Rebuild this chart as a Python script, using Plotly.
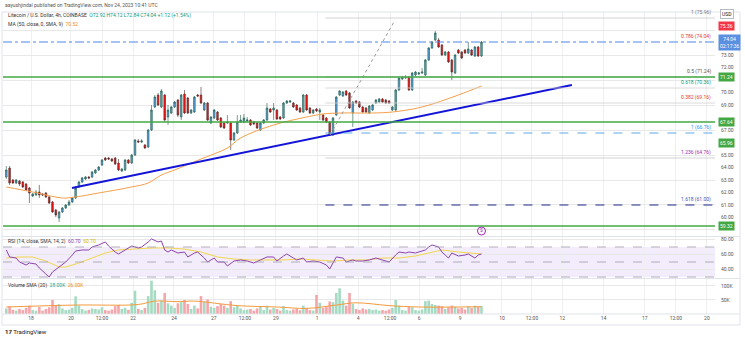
import plotly.graph_objects as go

TITLE = "aayushjindal published on TradingView.com, Nov 24, 2023 10:41 UTC"
SYMBOL = "Litecoin / U.S. Dollar, 4h, COINBASE"

OPEN = [63.24, 63.96, 63.00, 62.76, 62.92, 62.84, 62.68, 62.36, 61.72, 61.80,
        62.04, 61.88, 61.96, 61.64, 61.24, 60.60, 59.96, 60.44, 60.76, 61.00,
        61.24, 61.56, 62.44, 62.84, 63.08, 63.24, 63.24, 63.56, 63.80, 64.20,
        64.76, 64.76, 64.68, 64.76, 64.36, 63.72, 63.80, 64.60, 64.36, 65.00,
        66.12, 66.04, 65.80, 65.64, 67.00, 68.84, 69.80, 68.84, 69.80, 68.04,
        68.36, 68.84, 69.40, 68.04, 69.88, 69.56, 68.36, 68.44, 69.80, 69.80,
        68.60, 69.16, 67.56, 67.96, 68.44, 67.96, 67.56, 67.56, 67.56, 66.20,
        66.76, 67.64, 67.64, 67.72, 67.80, 67.64, 67.56, 67.00, 67.56, 67.80,
        68.68, 68.60, 68.60, 68.04, 67.96, 69.16, 69.24, 69.16, 69.00, 68.76,
        68.44, 69.80, 68.76, 68.36, 68.68, 68.44, 68.20, 67.96, 67.64, 66.60,
        68.20, 69.80, 69.72, 70.12, 69.96, 68.36, 69.32, 69.24, 68.84, 68.76,
        68.36, 68.60, 69.16, 69.24, 69.48, 69.40, 69.32, 68.60, 68.60, 70.20,
        71.08, 71.16, 71.24, 70.20, 71.40, 71.48, 71.56, 71.40, 72.60, 73.56,
        74.20, 74.20, 73.80, 73.00, 73.24, 72.60, 71.56, 73.40, 73.24, 73.40,
        73.16, 73.40, 72.92, 73.64, 72.92]
HIGH = [64.12, 64.12, 63.08, 63.08, 63.00, 62.92, 62.76, 62.44, 61.96, 62.20,
        62.60, 61.96, 62.04, 61.72, 61.32, 60.68, 60.52, 60.84, 61.08, 61.40,
        61.64, 62.52, 62.92, 63.24, 63.32, 63.32, 63.72, 63.88, 64.12, 64.68,
        64.84, 64.84, 64.76, 64.84, 64.68, 63.96, 64.68, 64.68, 65.08, 66.28,
        66.28, 66.28, 65.88, 67.08, 69.00, 69.80, 69.96, 70.28, 69.88, 69.00,
        68.92, 69.32, 69.48, 69.88, 70.20, 69.64, 68.68, 69.72, 69.88, 70.44,
        69.24, 69.24, 68.12, 68.68, 68.52, 68.04, 67.64, 68.20, 67.64, 66.84,
        68.20, 68.20, 68.28, 68.04, 67.88, 67.72, 67.64, 67.64, 67.88, 69.16,
        68.76, 69.16, 68.68, 68.12, 69.24, 69.40, 69.40, 69.24, 69.08, 68.84,
        69.88, 69.88, 68.84, 68.68, 68.76, 68.76, 68.28, 68.04, 67.72, 68.04,
        69.72, 70.20, 70.12, 70.20, 70.04, 69.32, 69.40, 69.32, 68.92, 68.84,
        69.00, 69.08, 69.48, 69.56, 69.56, 69.48, 69.40, 68.92, 70.28, 71.24,
        71.32, 71.40, 71.32, 71.64, 71.72, 71.64, 71.96, 72.68, 73.64, 74.12,
        74.92, 74.36, 73.88, 73.32, 73.32, 72.68, 73.08, 73.48, 73.32, 73.48,
        74.04, 73.48, 73.72, 73.72, 74.12]
LOW = [63.08, 62.60, 62.68, 62.68, 62.52, 62.36, 62.12, 61.16, 61.64, 61.72,
       61.56, 61.72, 61.56, 61.08, 60.36, 60.04, 59.64, 60.36, 60.68, 60.92,
       61.16, 61.48, 62.36, 62.76, 63.00, 63.08, 63.16, 63.48, 63.72, 64.12,
       64.52, 64.60, 64.44, 64.20, 63.72, 63.64, 63.72, 64.28, 64.28, 64.92,
       65.96, 65.96, 65.48, 65.56, 66.92, 68.76, 68.92, 68.76, 67.64, 67.40,
       68.28, 68.76, 68.04, 67.80, 68.28, 68.28, 68.28, 68.36, 69.64, 69.08,
       68.52, 67.72, 67.48, 67.88, 67.72, 67.16, 67.08, 67.48, 65.40, 66.12,
       66.68, 67.56, 67.56, 67.64, 67.32, 67.40, 67.08, 66.92, 67.48, 67.72,
       68.36, 67.80, 67.80, 67.80, 67.88, 69.08, 69.16, 68.76, 68.52, 68.36,
       68.36, 68.52, 68.28, 68.28, 68.44, 67.80, 67.72, 67.56, 66.52, 66.52,
       68.12, 69.72, 69.64, 69.72, 68.68, 67.24, 69.08, 68.76, 68.36, 68.36,
       68.28, 68.52, 69.08, 69.16, 69.16, 69.08, 69.08, 68.52, 68.52, 70.12,
       71.00, 71.08, 70.12, 70.12, 71.32, 71.40, 71.48, 71.32, 72.52, 73.48,
       74.12, 73.56, 72.92, 72.92, 72.36, 71.00, 71.48, 73.08, 72.68, 73.08,
       73.08, 72.92, 72.84, 72.84, 72.84]
CLOSE = [63.80, 62.76, 62.76, 63.00, 62.68, 62.44, 62.20, 61.96, 61.88, 62.04,
         61.80, 61.80, 61.64, 61.16, 60.44, 60.20, 60.44, 60.76, 61.00, 61.24,
         61.56, 62.36, 62.84, 63.16, 63.24, 63.16, 63.64, 63.80, 64.04, 64.60,
         64.60, 64.68, 64.52, 64.28, 63.80, 63.88, 64.60, 64.36, 65.00, 66.20,
         66.04, 66.12, 65.56, 67.00, 68.60, 69.64, 69.00, 70.12, 67.80, 68.60,
         68.84, 69.24, 68.20, 69.80, 68.36, 68.36, 68.60, 69.64, 69.72, 69.16,
         69.16, 67.80, 68.04, 68.60, 67.80, 67.24, 67.16, 67.64, 66.20, 66.76,
         67.64, 67.80, 67.96, 67.80, 67.40, 67.48, 67.16, 67.56, 67.80, 68.76,
         68.44, 68.76, 67.88, 67.88, 69.16, 69.32, 69.32, 68.84, 68.60, 68.44,
         69.80, 68.60, 68.36, 68.60, 68.52, 68.60, 67.80, 67.64, 66.60, 67.96,
         69.64, 70.12, 70.04, 69.80, 68.76, 69.24, 69.16, 68.84, 68.44, 68.44,
         68.92, 69.00, 69.40, 69.48, 69.24, 69.16, 69.16, 68.84, 70.20, 71.16,
         71.24, 71.24, 70.20, 71.56, 71.64, 71.56, 71.64, 72.60, 73.56, 74.04,
         74.76, 73.64, 73.00, 73.24, 72.44, 71.64, 73.00, 73.16, 72.76, 73.16,
         73.48, 73.00, 73.64, 72.92, 74.04]
VOLUME_K = [20, 28, 15, 12, 18, 14, 22, 30, 14, 12,
            25, 12, 18, 24, 50, 32, 35, 20, 14, 16,
            22, 63, 30, 18, 12, 15, 20, 18, 16, 24,
            14, 12, 16, 28, 32, 18, 22, 15, 40, 83,
            18, 14, 22, 64, 119, 85, 40, 48, 75, 38,
            30, 22, 38, 42, 50, 36, 18, 30, 20, 64,
            44, 52, 26, 22, 28, 36, 30, 22, 46, 24,
            32, 20, 14, 16, 18, 12, 20, 26, 14, 30,
            16, 22, 18, 12, 28, 14, 12, 16, 18, 14,
            30, 22, 14, 12, 68, 40, 22, 26, 45, 42,
            75, 92, 48, 30, 75, 36, 18, 14, 20, 16,
            18, 14, 16, 12, 14, 12, 16, 22, 50, 30,
            14, 12, 28, 24, 14, 12, 16, 46, 48, 36,
            32, 30, 28, 18, 24, 30, 26, 20, 22, 16,
            28, 22, 30, 26, 28]

MA_IDX = [0, 8, 17, 21, 28, 38, 43, 47, 51, 59, 67, 71, 81, 91, 96, 101, 111, 117, 126, 137, 144]
MA_VAL = [62.44, 62.04, 61.56, 61.64, 61.96, 62.44, 62.76, 63.40, 63.80, 64.68, 65.56,
          66.36, 67.40, 68.04, 68.28, 68.36, 68.36, 68.44, 68.84, 69.80, 70.52]

RSI_IDX = [0, 1, 3, 4, 6, 7, 9, 10, 12, 13, 14, 16, 17, 18, 20, 21, 23, 25, 26, 28,
           30, 31, 33, 34, 35, 37, 38, 40, 41, 43, 44, 46, 47, 48, 49, 50, 52, 54, 55, 57,
           58, 60, 61, 63, 64, 66, 67, 69, 71, 73, 75, 77, 79, 81, 82, 84, 85, 87, 88, 90,
           91, 93, 95, 97, 98, 99, 100, 102, 103, 105, 106, 108, 110, 112, 114, 116, 118, 119, 121, 122,
           124, 125, 127, 128, 129, 131, 132, 133, 134, 135, 137, 139, 140, 142, 143, 144]
RSI_VAL = [66.0, 56.7, 55.3, 50.0, 46.0, 48.7, 47.3, 42.0, 34.0, 30.0, 36.7, 43.3, 47.3, 50.0, 59.3, 64.7, 66.0, 66.0, 70.0, 72.7,
           76.7, 71.3, 63.3, 60.7, 63.3, 68.7, 71.3, 68.7, 70.0, 76.7, 80.7, 76.7, 78.0, 66.0, 63.3, 66.0, 62.0, 63.3, 56.7, 62.0,
           63.3, 55.3, 50.0, 55.3, 50.0, 50.0, 44.7, 51.3, 52.7, 51.3, 48.7, 52.7, 56.7, 56.7, 51.3, 58.0, 60.7, 55.3, 52.7, 55.3,
           50.0, 51.3, 50.0, 46.0, 40.7, 48.7, 56.7, 55.3, 50.0, 52.7, 51.3, 51.3, 52.7, 55.3, 52.7, 50.0, 59.3, 63.3, 62.0, 63.3,
           62.0, 63.3, 66.0, 70.0, 72.7, 70.0, 63.3, 59.3, 55.3, 62.0, 58.0, 59.3, 60.7, 55.3, 59.3, 60.7]
RSI_SMA_IDX = [0, 4, 8, 12, 16, 18, 22, 26, 30, 34, 38, 44, 49, 54, 59, 64, 69, 74, 79, 84,
               89, 94, 99, 104, 109, 114, 119, 124, 129, 132, 137, 144]
RSI_SMA_VAL = [55.3, 56.7, 56.7, 51.3, 43.3, 43.3, 48.7, 55.3, 62.0, 66.0, 67.3, 68.7, 68.7, 67.3, 63.3, 56.7,
               54.0, 52.7, 52.7, 52.7, 54.0, 52.7, 51.3, 52.7, 52.7, 55.3, 55.3, 58.0, 63.3, 66.0, 63.3, 60.7]

VOL_SMA_IDX = [0, 21, 40, 45, 52, 57, 70, 82, 91, 100, 106, 116, 125, 144]
VOL_SMA_K = [25, 32, 34, 46, 44, 46, 30, 25, 20, 32, 40, 30, 25, 26]

TREND_IDX = [19.9, 171.4]
TREND_VAL = [62.36, 70.60]
FIB_DIAG_IDX = [98.1, 117.8]
FIB_DIAG_VAL = [66.60, 75.80]
FIB_START = 96.7
FIB_RATIOS = ["1", "0.786", "0.5", "0.618", "0.382", "1", "1.236", "1.618"]
FIB_LEVELS = [75.96, 74.04, 71.24, 70.36, 69.16, 66.76, 64.76, 61.00]
FIB_TEXT_COLORS = ["#787b86", "#e53935", "#555555", "#089981", "#e53935", "#2196f3", "#9c27b0", "#3f51b5"]
SUPPORT_LEVELS = [71.24, 67.64, 59.32]
EXTRA_GREEN_LABEL = 65.96
RED_AXIS_LABEL = 75.36

PRICE_TICKS = [60, 61, 62, 63, 64, 65, 67, 69, 70, 72, 73]
RSI_TICKS = [40, 60, 80]
VOL_TICKS = [50, 100]

TICK_POS = [7.5, 19.6, 29.0, 38.4, 50.8, 62.9, 72.3, 81.7, 94.2, 106.6, 116.3, 125.1,
            137.5, 150.2, 159.3, 168.5, 181.0, 193.5, 202.9, 212.3]
TICK_LABELS = ["18", "20", "12:00", "22", "24", "27", "12:00", "29", "1", "4", "12:00", "6",
               "9", "10", "12:00", "12", "14", "17", "12:00", "20"]

X_RANGE = [-1, 214.76]
PRICE_RANGE = [58.52, 76.44]
RSI_RANGE = [28.67, 83.33]
VOL_RANGE = [0, 125]

FONT = "Roboto"
idx = list(range(len(CLOSE)))
UP_VOL = "#a6dbc3"
DN_VOL = "#f5a6aa"
vol_colors = [UP_VOL if c >= o else DN_VOL for o, c in zip(OPEN, CLOSE)]

fig = go.Figure()

fig.add_trace(go.Candlestick(
    x=idx, open=OPEN, high=HIGH, low=LOW, close=CLOSE,
    increasing=dict(fillcolor="#5b9ee0", line=dict(color="#1f5a42", width=0.6)),
    decreasing=dict(fillcolor="#ff1010", line=dict(color="#4a2a2a", width=0.6)),
    whiskerwidth=0, xaxis="x", yaxis="y", showlegend=False, hoverinfo="skip"))

fig.add_trace(go.Scatter(x=MA_IDX, y=MA_VAL, mode="lines", line=dict(color="#f5a04a", width=1, shape="spline"),
                         xaxis="x", yaxis="y", showlegend=False, hoverinfo="skip"))
fig.add_trace(go.Scatter(x=TREND_IDX, y=TREND_VAL, mode="lines", line=dict(color="#1414d8", width=2),
                         xaxis="x", yaxis="y", showlegend=False, hoverinfo="skip"))
fig.add_trace(go.Scatter(x=FIB_DIAG_IDX, y=FIB_DIAG_VAL, mode="lines", line=dict(color="#9a9a9a", width=1, dash="dot"),
                         xaxis="x", yaxis="y", showlegend=False, hoverinfo="skip"))
fig.add_trace(go.Scatter(x=[idx[-1]], y=[58.92], mode="markers+text", text=["$"],
                         textfont=dict(size=5, color="#9c27b0", family=FONT), textposition="middle center",
                         marker=dict(symbol="circle-open", size=8, color="#9c27b0", line=dict(width=1)),
                         xaxis="x", yaxis="y", showlegend=False, hoverinfo="skip"))
fig.add_trace(go.Scatter(x=[0], y=[70], mode="markers", marker=dict(opacity=0), xaxis="x", yaxis="y4",
                         showlegend=False, hoverinfo="skip"))

fig.add_trace(go.Scatter(x=RSI_SMA_IDX, y=RSI_SMA_VAL, mode="lines", line=dict(color="#f2d64b", width=1),
                         xaxis="x", yaxis="y2", showlegend=False, hoverinfo="skip"))
fig.add_trace(go.Scatter(x=RSI_IDX, y=RSI_VAL, mode="lines", line=dict(color="#8e44ad", width=1),
                         xaxis="x", yaxis="y2", showlegend=False, hoverinfo="skip"))

fig.add_trace(go.Bar(x=idx, y=VOLUME_K, marker=dict(color=vol_colors, line=dict(width=0)), width=0.8,
                     xaxis="x", yaxis="y3", showlegend=False, hoverinfo="skip"))
fig.add_trace(go.Scatter(x=VOL_SMA_IDX, y=VOL_SMA_K, mode="lines", line=dict(color="#f59a3c", width=1, shape="spline"),
                         xaxis="x", yaxis="y3", showlegend=False, hoverinfo="skip"))

shapes = []
fib_styles = {
    0: dict(color="#c8c8c8", width=0.8),
    2: dict(color="#c8c8c8", width=0.8),
    3: dict(color="#d0d0d0", width=0.8),
    4: dict(color="#d0d0d0", width=0.8),
    5: dict(color="#5fa8e8", width=1, dash="dash"),
    6: dict(color="#c8c8c8", width=0.8),
    7: dict(color="#1f2a8a", width=1, dash="dash"),
}
for k, lvl in enumerate(FIB_LEVELS):
    if k in fib_styles:
        shapes.append(dict(type="line", xref="x", yref="y", x0=FIB_START, x1=X_RANGE[1], y0=lvl, y1=lvl,
                           line=fib_styles[k], layer="above"))
for lvl in SUPPORT_LEVELS:
    shapes.append(dict(type="line", xref="paper", yref="y", x0=0, x1=1, y0=lvl, y1=lvl,
                       line=dict(color="#43a843", width=1.5), layer="above"))
shapes.append(dict(type="line", xref="paper", yref="y", x0=0, x1=1, y0=CLOSE[-1], y1=CLOSE[-1],
                   line=dict(color="#4a86e8", width=1, dash="dashdot"), layer="above"))
shapes.append(dict(type="rect", xref="paper", yref="y2", x0=0, x1=1, y0=30, y1=70,
                   fillcolor="rgba(150,100,230,0.12)", line=dict(width=0), layer="below"))
for lvl in (70, 50, 30):
    shapes.append(dict(type="line", xref="paper", yref="y2", x0=0, x1=1, y0=lvl, y1=lvl,
                       line=dict(color="#a0a0a8", width=0.8, dash="dash"), layer="above"))
shapes.append(dict(type="rect", xref="paper", yref="paper", x0=-0.0014, x1=1.0351, y0=-0.0364, y1=1.0,
                   line=dict(color="#e0e3eb", width=1)))
for py in (0.2566, 0.1175, 0.0):
    shapes.append(dict(type="line", xref="paper", yref="paper", x0=-0.0014, x1=1.0351, y0=py, y1=py,
                       line=dict(color="#e0e3eb", width=1)))

annotations = []
small = dict(family=FONT, size=5, color="#555555")
annotations.append(dict(xref="paper", yref="paper", x=0.0, y=1.023, xanchor="left", yanchor="middle",
                        text=TITLE, showarrow=False, font=small))
chg = CLOSE[-1] - CLOSE[-2]
g = "#089981"
hdr = (f"{SYMBOL}  <span style='color:{g}'>O{OPEN[-1]:.2f} H{HIGH[-1]:.2f} L{LOW[-1]:.2f} "
       f"C{CLOSE[-1]:.2f} {chg:+.2f} ({chg / CLOSE[-2] * 100:+.2f}%)</span>")
annotations.append(dict(xref="paper", yref="paper", x=0.004, y=0.9868, xanchor="left", yanchor="middle",
                        text=hdr, showarrow=False, font=dict(family=FONT, size=5, color="#333333")))
annotations.append(dict(xref="paper", yref="paper", x=0.004, y=0.960, xanchor="left", yanchor="middle",
                        text=f"MA (50, close, 0, SMA, 9)  <span style='color:#f08c2a'>{MA_VAL[-1]:.2f}</span>",
                        showarrow=False, font=dict(family=FONT, size=5, color="#333333")))
annotations.append(dict(xref="paper", yref="paper", x=0.004, y=0.2417, xanchor="left", yanchor="middle",
                        text=(f"RSI (14, close, SMA, 14, 2)  <span style='color:#8e44ad'>{RSI_VAL[-1]:.2f}</span>  "
                              f"<span style='color:#d4b400'>{RSI_SMA_VAL[-1]:.2f}</span>"),
                        showarrow=False, font=dict(family=FONT, size=5, color="#333333")))
annotations.append(dict(xref="paper", yref="paper", x=0.004, y=0.096, xanchor="left", yanchor="middle",
                        text=(f"Volume SMA (20)  <span style='color:#26a69a'>{VOLUME_K[-1]:.2f}K</span>  "
                              f"<span style='color:#f08c2a'>{VOL_SMA_K[-1]:.2f}K</span>"),
                        showarrow=False, font=dict(family=FONT, size=5, color="#333333")))
annotations.append(dict(xref="paper", yref="paper", x=0.0, y=-0.0563, xanchor="left", yanchor="middle",
                        text="<b>17</b> TradingView", showarrow=False,
                        font=dict(family=FONT, size=6, color="#131722")))
for r, lvl, col in zip(FIB_RATIOS, FIB_LEVELS, FIB_TEXT_COLORS):
    annotations.append(dict(xref="x", yref="y", x=X_RANGE[1] - 0.6, y=lvl, xanchor="right", yanchor="bottom",
                            text=f"{r} ({lvl:.2f})", showarrow=False, font=dict(family=FONT, size=5, color=col)))

def axis_box(val, color, text=None, yref="y"):
    return dict(xref="paper", yref=yref, x=1.0042, y=val, xanchor="left", yanchor="middle",
                text=text if text else f"{val:.2f}", showarrow=False, bgcolor=color, borderpad=1,
                font=dict(family=FONT, size=5, color="white"))

for lvl in SUPPORT_LEVELS:
    annotations.append(axis_box(lvl, "#43a843"))
annotations.append(axis_box(EXTRA_GREEN_LABEL, "#43a843"))
annotations.append(axis_box(RED_AXIS_LABEL, "#f23645"))
annotations.append(axis_box(CLOSE[-1], "#5b8fe0", text=f"{CLOSE[-1]:.2f}<br>02:17:36"))
annotations.append(dict(xref="paper", yref="paper", x=1.0070, y=0.992, xanchor="left", yanchor="middle",
                        text="USD", showarrow=False, bgcolor="white", bordercolor="#b8bbc3", borderwidth=1,
                        borderpad=1, font=dict(family=FONT, size=5, color="#131722")))

axis_font = dict(family=FONT, size=5, color="#555555")
fig.update_layout(
    width=745, height=340, autosize=False,
    margin=dict(l=3, r=30, t=12, b=26, pad=0),
    paper_bgcolor="white", plot_bgcolor="white",
    showlegend=False, bargap=0.2,
    xaxis=dict(domain=[0, 1], range=X_RANGE, anchor="y3", tickvals=TICK_POS, ticktext=TICK_LABELS,
               tickfont=axis_font, showgrid=True, gridcolor="#efefef", gridwidth=1, zeroline=False,
               showline=False, ticks="", rangeslider=dict(visible=False), fixedrange=True),
    yaxis=dict(domain=[0.2583, 1.0], range=PRICE_RANGE, side="right", anchor="x",
               tickvals=PRICE_TICKS, ticktext=[f"{v:.2f}" for v in PRICE_TICKS],
               tickfont=axis_font, showgrid=False, zeroline=False, showline=False, ticks="",
               ticklabelstandoff=5),
    yaxis4=dict(overlaying="y", range=PRICE_RANGE, side="right", anchor="x", showticklabels=False,
                tickvals=list(range(59, 77, 2)), showgrid=True, gridcolor="#e8e8e8", gridwidth=1,
                zeroline=False, showline=False, ticks=""),
    yaxis2=dict(domain=[0.1192, 0.2550], range=RSI_RANGE, side="right", anchor="x",
                tickvals=RSI_TICKS, ticktext=[f"{v:.2f}" for v in RSI_TICKS], tickfont=axis_font,
                showgrid=True, gridcolor="#e8e8e8", zeroline=False, showline=False, ticks="",
                ticklabelstandoff=5),
    yaxis3=dict(domain=[0.0, 0.1159], range=VOL_RANGE, side="right", anchor="x",
                tickvals=VOL_TICKS, ticktext=[f"{v}K" for v in VOL_TICKS], tickfont=axis_font,
                showgrid=True, gridcolor="#e8e8e8", zeroline=False, showline=False, ticks="",
                ticklabelstandoff=5),
    shapes=shapes, annotations=annotations,
)

fig.write_html("out.html")
